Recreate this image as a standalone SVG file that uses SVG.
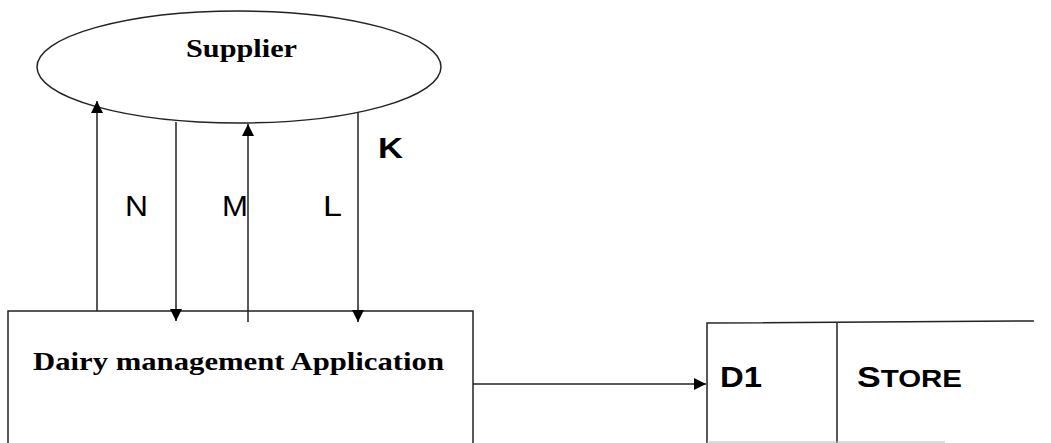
<svg xmlns="http://www.w3.org/2000/svg" width="1051" height="443" viewBox="0 0 1051 443">
<style>
.ln{stroke:#222;stroke-width:1.5;fill:none}
.serif{font-family:"Liberation Serif","Times New Roman",serif;font-weight:bold;fill:#000}
.sans{font-family:"Liberation Sans",Arial,sans-serif;fill:#000}
</style>
<defs>
<marker id="arr" viewBox="0 0 10 10" refX="10" refY="5" markerWidth="12" markerHeight="12" markerUnits="userSpaceOnUse" orient="auto">
<path d="M0,0 L10,5 L0,10 z" fill="#000"/>
</marker>
</defs>
<rect width="1051" height="443" fill="#fff"/>
<g id="supplier">
<ellipse class="ln" cx="239" cy="67" rx="202" ry="56"/>
<text class="serif" x="186" y="57" font-size="25" textLength="111" lengthAdjust="spacingAndGlyphs">Supplier</text>
</g>
<g id="dairy-app">
<rect class="ln" x="8" y="311" width="465" height="150"/>
<text class="serif" x="33" y="370" font-size="25" textLength="411" lengthAdjust="spacingAndGlyphs">Dairy management Application</text>
</g>
<g id="store">
<path class="ln" d="M707,451 L707,323 L1034,321 M837,323 L837,451"/>
<path d="M707,442 L945,442" stroke="#bbb" stroke-width="1" fill="none"/>
<text class="sans" x="720" y="387" font-size="29" font-weight="bold" textLength="42" lengthAdjust="spacingAndGlyphs">D1</text>
<text class="sans" x="857" y="387" font-weight="bold" textLength="105" lengthAdjust="spacingAndGlyphs"><tspan font-size="29">S</tspan><tspan font-size="24">TORE</tspan></text>
</g>
<g id="connectors">
<line class="ln" x1="97" y1="311" x2="97" y2="101" marker-end="url(#arr)"/>
<line class="ln" x1="176" y1="122" x2="176" y2="321" marker-end="url(#arr)"/>
<line class="ln" x1="248" y1="322" x2="248" y2="124" marker-end="url(#arr)"/>
<line class="ln" x1="358" y1="112" x2="358" y2="322" marker-end="url(#arr)" stroke="#555" stroke-width="2"/>
<line class="ln" x1="473" y1="384" x2="706" y2="384" marker-end="url(#arr)"/>
<text class="sans" x="125" y="216" font-size="29" textLength="23" lengthAdjust="spacingAndGlyphs">N</text>
<text class="sans" x="222" y="216" font-size="29" textLength="26" lengthAdjust="spacingAndGlyphs">M</text>
<text class="sans" x="323" y="216" font-size="29" textLength="19" lengthAdjust="spacingAndGlyphs">L</text>
<text class="sans" x="378" y="158" font-size="29" font-weight="bold" textLength="25" lengthAdjust="spacingAndGlyphs">K</text>
</g>
</svg>
